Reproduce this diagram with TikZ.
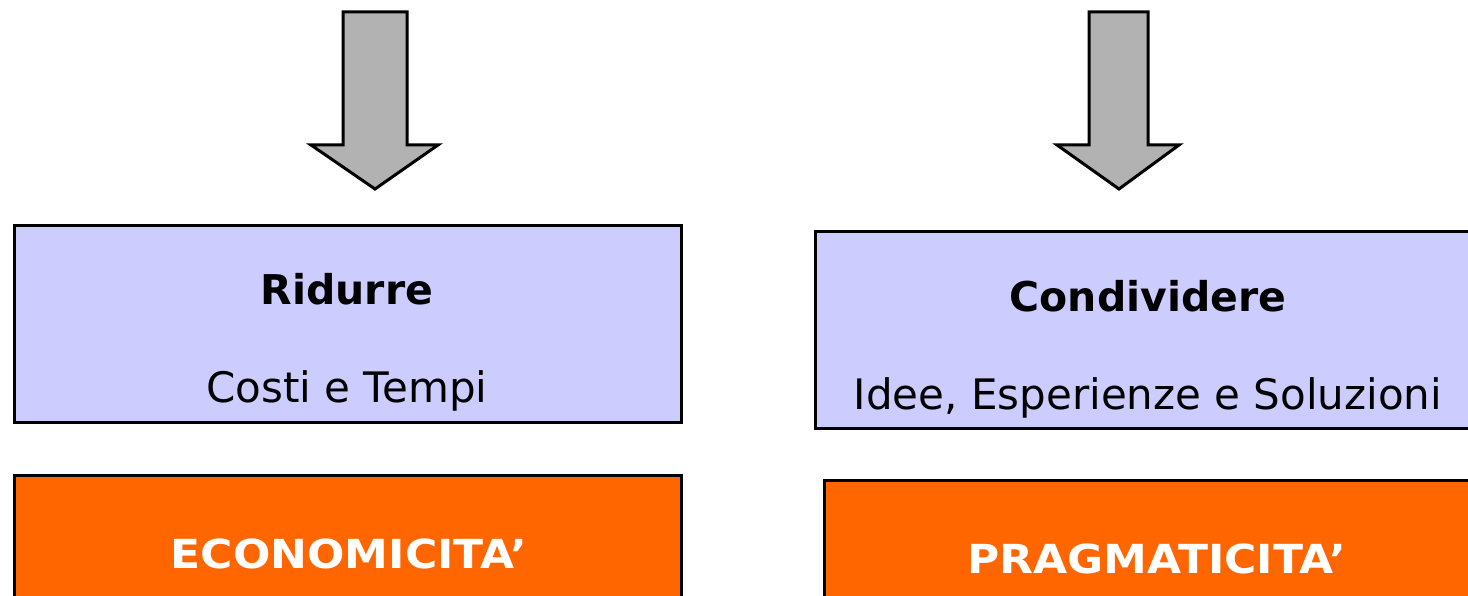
\documentclass[tikz,border=0pt]{standalone}
\usepackage{fontspec}
\setmainfont{DejaVu Sans}
\newfontfamily\qualfont[FakeStretch=1.1]{DejaVu Sans}
\begin{document}
\begin{tikzpicture}[x=1pt,y=-1pt,
  box/.style={draw=black, line width=3pt, minimum width=667pt, minimum height=197pt, inner sep=0pt, anchor=north west},
  bluebox/.style={box, fill=boxblue},
  orangebox/.style={box, fill=boxorange},
  head/.style={anchor=base, font=\fontsize{41}{48}\selectfont\bfseries, text=black, inner sep=0pt},
  sub/.style={anchor=base, font=\fontsize{42}{48}\selectfont, text=black, inner sep=0pt},
  quality/.style={anchor=base, font=\qualfont\fontsize{40}{47}\selectfont\bfseries, text=white, inner sep=0pt},
  blockarrow/.style={draw=black, line width=3pt, fill=arrowgray, line join=miter}
]
\definecolor{boxblue}{HTML}{CCCCFF}
\definecolor{boxorange}{HTML}{FF6600}
\definecolor{arrowgray}{HTML}{B2B2B2}
\useasboundingbox (0,0) rectangle (1468,596);

% arrows
\draw[blockarrow] (343,12) -- (407,12) -- (407,145) -- (438,145) -- (375,189) -- (311,145) -- (343,145) -- cycle;
\draw[blockarrow] (1089,12) -- (1148,12) -- (1148,145) -- (1179,145) -- (1119,189) -- (1057,145) -- (1089,145) -- cycle;

% left column
\node[bluebox] (ridurre) at (13,224) {};
\node[head] (ridurreT) at (347,305) {Ridurre};
\node[sub] (costi) at (347,402) {Costi e Tempi};
\node[orangebox] (eco) at (13,474) {};
\node[quality] (ecoT) at (349,568) {ECONOMICITA’};

% right column
\node[bluebox] (cond) at (814,230) {};
\node[head] (condT) at (1148,312) {Condividere};
\node[sub] (idee) at (1148,409) {Idee, Esperienze e Soluzioni};
\node[orangebox] (prag) at (823,479) {};
\node[quality] (pragT) at (1157,573) {PRAGMATICITA’};
\end{tikzpicture}
\end{document}
